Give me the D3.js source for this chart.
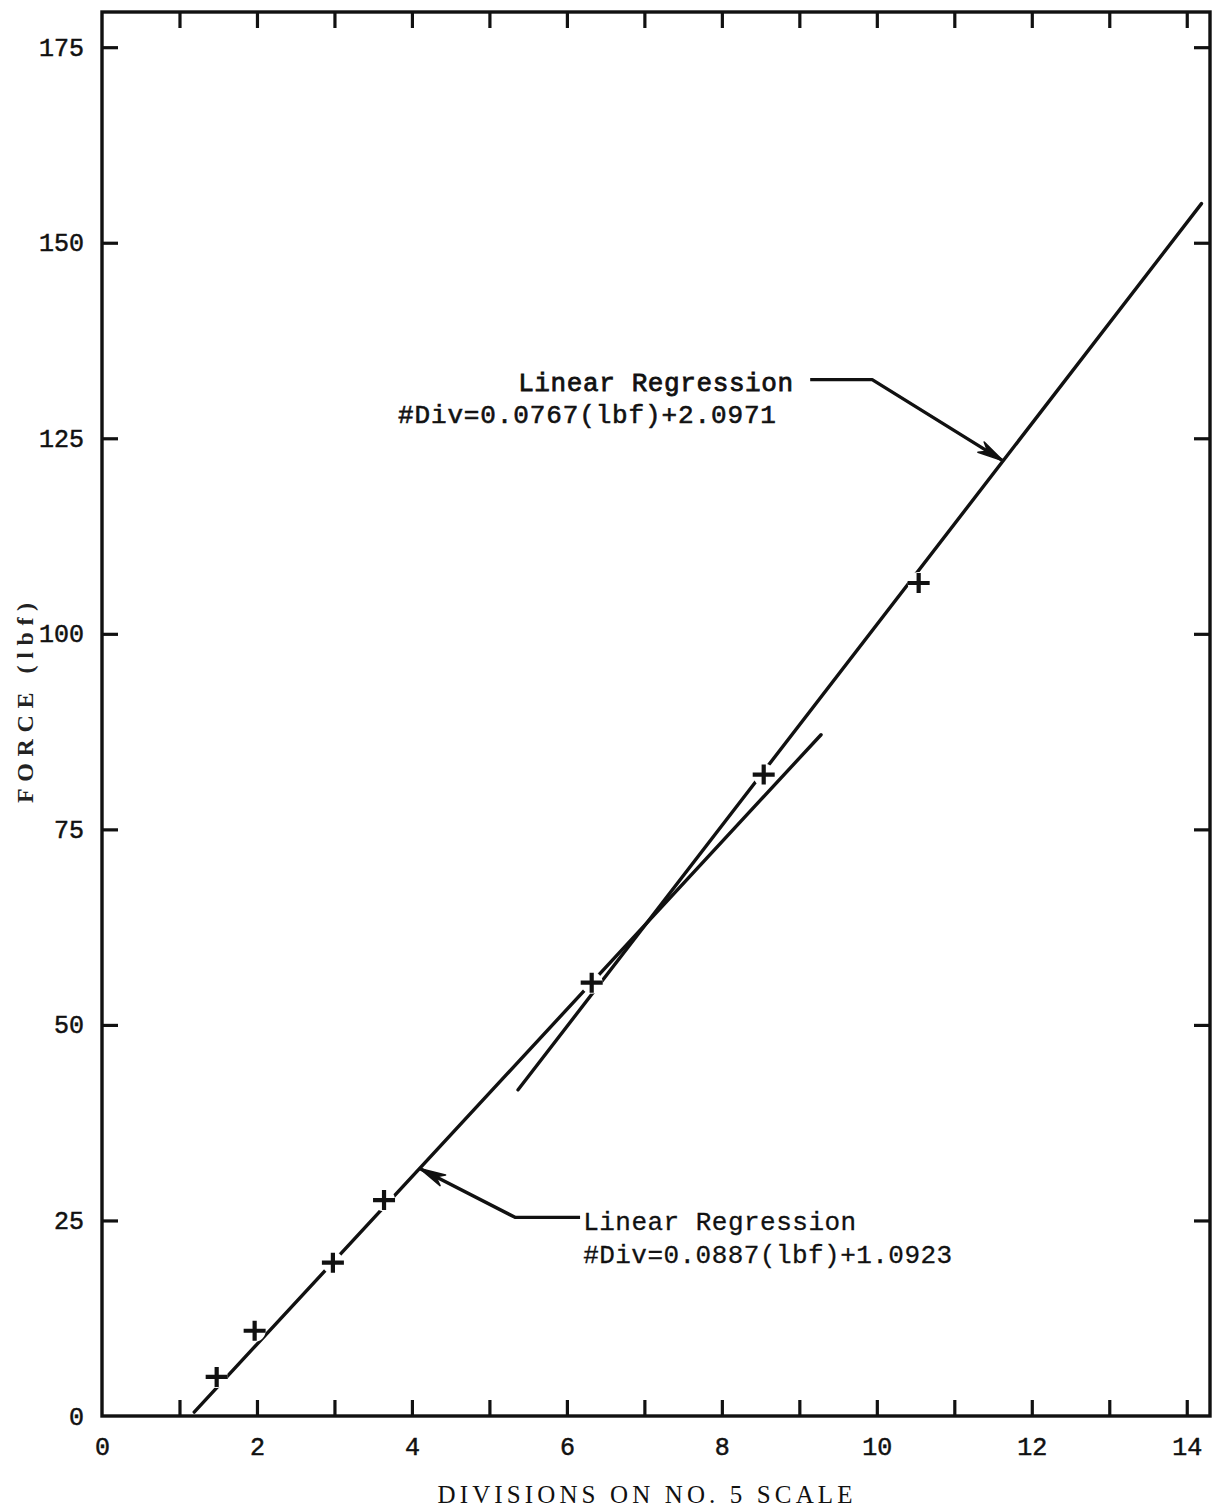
<!DOCTYPE html>
<html>
<head>
<meta charset="utf-8">
<script src="https://cdn.jsdelivr.net/npm/d3@7"></script>
<style>
  html, body { margin: 0; padding: 0; background: #fff; }
  svg { display: block; }
</style>
</head>
<body>
<svg id="chart" width="1214" height="1509"></svg>
<script>
// Tick values
const xTickValues = d3.range(0, 15);          // a tick at every division
const xLabelValues = [0, 2, 4, 6, 8, 10, 12, 14];
const yTickValues = [0, 25, 50, 75, 100, 125, 150, 175];

// Calibration readings: divisions on the No. 5 scale vs applied force (lbf)
const divisions = [1.48, 1.97, 2.98, 3.64, 6.32, 8.54, 10.54];
const forceLbf  = [5.0, 10.9, 19.6, 27.6, 55.4, 82.0, 106.5];

// Fitted lines as drawn, endpoints [divisions, lbf]
const fitLowRange  = [[1.19, 0.5], [9.28, 87.1]];
const fitHighRange = [[5.37, 41.7], [14.19, 155.0]];

// Annotation texts
const fitHighText = ["Linear Regression", "#Div=0.0767(lbf)+2.0971"];
const fitLowText  = ["Linear Regression", "#Div=0.0887(lbf)+1.0923"];

const W = 1214, H = 1509;
const svg = d3.select("#chart");

const x = d3.scaleLinear().domain([0, 14.3]).range([102, 1210]);
const y = d3.scaleLinear().domain([0, 179.5]).range([1416, 12]);

const ink = "#111";
const monoFont = "'Liberation Mono', 'DejaVu Sans Mono', monospace";
const serifFont = "'Liberation Serif', 'DejaVu Serif', serif";

// Value of a drawn line at a given division reading
function along(seg, d) {
  const [[d0, f0], [d1, f1]] = seg;
  return f0 + (d - d0) * (f1 - f0) / (d1 - d0);
}

// ---- Axes: ticks on all four sides, pointing inward ----
const tickLen = 16;
function styleAxis(g) {
  g.select(".domain").remove();
  g.selectAll(".tick line").attr("stroke", ink).attr("stroke-width", 3.2);
  g.selectAll(".tick text")
    .attr("fill", ink).attr("font-family", monoFont).attr("font-size", 25)
    .attr("stroke", ink).attr("stroke-width", 0.5);
}

svg.append("g")
  .attr("transform", `translate(0,${y(0)})`)
  .call(d3.axisBottom(x).tickValues(xTickValues).tickSize(-tickLen).tickPadding(21)
    .tickFormat(d => xLabelValues.includes(d) ? String(d) : ""))
  .call(styleAxis)
  .call(g => g.selectAll(".tick").filter(d => d === 0).select("line").remove());

svg.append("g")
  .attr("transform", `translate(0,${y.range()[1]})`)
  .call(d3.axisTop(x).tickValues(xTickValues.filter(d => d > 0)).tickSize(-tickLen).tickFormat(""))
  .call(styleAxis);

svg.append("g")
  .attr("transform", `translate(${x(0)},0)`)
  .call(d3.axisLeft(y).tickValues(yTickValues).tickSize(-tickLen).tickPadding(18))
  .call(styleAxis)
  .call(g => g.selectAll(".tick").filter(d => d === 0).select("line").remove());

svg.append("g")
  .attr("transform", `translate(${x.range()[1]},0)`)
  .call(d3.axisRight(y).tickValues(yTickValues.filter(d => d > 0)).tickSize(-tickLen).tickFormat(""))
  .call(styleAxis);

// Frame
svg.append("rect")
  .attr("x", x(0)).attr("y", y.range()[1])
  .attr("width", x.range()[1] - x(0))
  .attr("height", y(0) - y.range()[1])
  .attr("fill", "none").attr("stroke", ink).attr("stroke-width", 3.4);

// ---- Fitted lines, broken where they pass the plotted crosses ----
const points = divisions.map((d, i) => [d, forceLbf[i]]);

const mask = svg.append("defs").append("mask")
  .attr("id", "cross-gaps").attr("maskUnits", "userSpaceOnUse")
  .attr("x", 0).attr("y", 0).attr("width", W).attr("height", H);
mask.append("rect").attr("width", W).attr("height", H).attr("fill", "#fff");
mask.selectAll("circle").data(points).join("circle")
  .attr("cx", d => x(d[0])).attr("cy", d => y(d[1])).attr("r", 11).attr("fill", "#000");

const line = d3.line().x(d => x(d[0])).y(d => y(d[1]));
svg.append("g").attr("mask", "url(#cross-gaps)")
  .selectAll("path").data([fitLowRange, fitHighRange]).join("path")
  .attr("d", line)
  .attr("fill", "none").attr("stroke", ink).attr("stroke-width", 3.4).attr("stroke-linecap", "round");

// ---- Data crosses ----
svg.append("g").selectAll("path").data(points).join("path")
  .attr("transform", d => `translate(${x(d[0])},${y(d[1])})`)
  .attr("d", "M-11,0H11M0,-10V10")
  .attr("fill", "none").attr("stroke", ink).attr("stroke-width", 4.2);

// ---- Annotation leaders with arrowheads ----
function leader(pts) {
  const p = pts.map(d => [x(d[0]), y(d[1])]);
  svg.append("path")
    .attr("d", d3.line()(p))
    .attr("fill", "none").attr("stroke", ink).attr("stroke-width", 3.4).attr("stroke-linejoin", "round");
  const tip = p[p.length - 1], from = p[p.length - 2];
  const ang = Math.atan2(tip[1] - from[1], tip[0] - from[0]);
  const len = 26, half = 6;
  const bx = tip[0] - len * Math.cos(ang), by = tip[1] - len * Math.sin(ang);
  const nx = -Math.sin(ang) * half, ny = Math.cos(ang) * half;
  svg.append("path")
    .attr("d", `M${tip[0]},${tip[1]}L${bx + nx},${by + ny}L${bx + 0.3 * (tip[0] - bx)},${by + 0.3 * (tip[1] - by)}L${bx - nx},${by - ny}Z`)
    .attr("fill", ink).attr("stroke", ink).attr("stroke-width", 1.5).attr("stroke-linejoin", "round");
}

const highTipDiv = 11.63;
leader([[9.14, 132.5], [9.94, 132.5], [highTipDiv, along(fitHighRange, highTipDiv)]]);
const lowTipDiv = 4.10;
leader([[6.17, 25.4], [5.33, 25.4], [lowTipDiv, along(fitLowRange, lowTipDiv)]]);

function note(str, xd, yd, anchor, width, weight) {
  svg.append("text")
    .attr("x", x(xd)).attr("y", y(yd))
    .attr("text-anchor", anchor)
    .attr("font-family", monoFont).attr("font-size", 26)
    .attr("textLength", width).attr("lengthAdjust", "spacing")
    .attr("fill", ink).attr("stroke", ink).attr("stroke-width", weight)
    .text(str);
}
note(fitHighText[0], 8.92, 131.0, "end", 275, 0.8);
note(fitHighText[1], 3.82, 126.9, "start", 378, 0.6);
note(fitLowText[0], 6.21, 23.8, "start", 273, 0.3);
note(fitLowText[1], 6.21, 19.6, "start", 369, 0.3);

// ---- Axis titles ----
svg.append("text")
  .attr("x", 645).attr("y", 1503)
  .attr("text-anchor", "middle")
  .attr("font-family", serifFont).attr("font-size", 25)
  .attr("textLength", 415).attr("lengthAdjust", "spacing")
  .attr("fill", ink)
  .text("DIVISIONS ON NO. 5 SCALE");

svg.append("text")
  .attr("transform", "translate(33,703) rotate(-90)")
  .attr("text-anchor", "middle")
  .attr("font-family", serifFont).attr("font-size", 24).attr("font-weight", "bold")
  .attr("textLength", 200).attr("lengthAdjust", "spacing")
  .attr("fill", "#222")
  .text("FORCE (lbf)");
</script>
</body>
</html>
